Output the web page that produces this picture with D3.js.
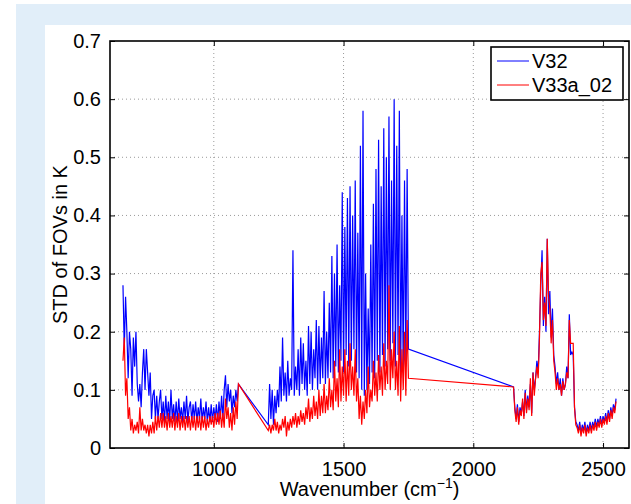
<!DOCTYPE html>
<html>
<head>
<meta charset="utf-8">
<script src="https://cdn.jsdelivr.net/npm/d3@7"></script>
<style>
  body { margin: 0; background: #fff; }
  text { font-family: "Liberation Sans", Arial, Helvetica, sans-serif; }
</style>
</head>
<body>
<div id="chart"></div>
<script>
// channel grid: each band starts at bandStart and steps by bandStep cm-1
const bandStart = [650, 1210, 2155]
const bandStep = 5
const xTicks = [1000, 1500, 2000, 2500]
const yTicks = [0, 0.1, 0.2, 0.3, 0.4, 0.5, 0.6, 0.7]
const seriesNames = ["V32", "V33a_02"]

const v32Band1 = [
  0.28,0.17,0.26,0.20,0.12,0.20,0.17,0.09,0.19,0.14,
  0.20,0.11,0.08,0.11,0.07,0.13,0.17,0.10,0.17,0.13,
  0.09,0.13,0.05,0.09,0.10,0.05,0.09,0.05,0.08,0.10,
  0.05,0.08,0.045,0.09,0.05,0.08,0.045,0.10,0.05,0.075,
  0.045,0.08,0.045,0.085,0.05,0.07,0.045,0.08,0.05,0.09,
  0.045,0.07,0.08,0.045,0.075,0.05,0.08,0.045,0.07,0.05,
  0.085,0.045,0.07,0.05,0.08,0.045,0.07,0.045,0.075,0.045,
  0.07,0.05,0.075,0.045,0.08,0.05,0.09,0.05,0.10,0.125,
  0.07,0.11,0.08,0.10,0.06,0.09,0.07,0.10,0.08,0.11]
const v33Band1 = [
  0.15,0.19,0.09,0.12,0.05,0.07,0.03,0.05,0.025,0.04,
  0.03,0.045,0.025,0.07,0.03,0.05,0.03,0.04,0.025,0.04,
  0.02,0.04,0.025,0.045,0.025,0.055,0.03,0.055,0.035,0.06,
  0.035,0.06,0.035,0.055,0.03,0.06,0.035,0.055,0.035,0.06,
  0.03,0.055,0.035,0.06,0.03,0.055,0.035,0.055,0.03,0.055,
  0.035,0.055,0.03,0.055,0.035,0.055,0.03,0.055,0.035,0.055,
  0.03,0.055,0.035,0.055,0.03,0.05,0.035,0.055,0.04,0.055,
  0.035,0.06,0.04,0.06,0.04,0.065,0.035,0.06,0.035,0.085,
  0.05,0.07,0.035,0.06,0.03,0.07,0.04,0.08,0.05,0.11]

const v32Band2 = [
  0.04,0.11,0.05,0.10,0.04,0.09,0.06,0.10,0.07,0.14,
  0.08,0.19,0.09,0.13,0.08,0.15,0.09,0.12,0.10,0.34,
  0.09,0.14,0.10,0.17,0.09,0.19,0.11,0.18,0.10,0.15,
  0.09,0.21,0.11,0.20,0.10,0.17,0.12,0.22,0.10,0.21,
  0.11,0.19,0.12,0.27,0.11,0.20,0.12,0.25,0.13,0.33,
  0.12,0.30,0.14,0.35,0.13,0.28,0.15,0.44,0.13,0.38,
  0.16,0.43,0.14,0.45,0.15,0.40,0.17,0.46,0.13,0.37,
  0.12,0.52,0.10,0.58,0.09,0.30,0.10,0.24,0.11,0.35,
  0.13,0.42,0.12,0.48,0.15,0.53,0.13,0.45,0.16,0.55,
  0.14,0.50,0.17,0.57,0.15,0.46,0.18,0.60,0.14,0.52,
  0.16,0.58,0.12,0.40,0.13,0.46,0.14,0.48,0.17]
const v33Band2 = [
  0.03,0.04,0.025,0.04,0.03,0.05,0.03,0.045,0.025,0.04,
  0.03,0.05,0.035,0.055,0.02,0.045,0.03,0.05,0.035,0.055,
  0.04,0.06,0.035,0.055,0.04,0.065,0.045,0.06,0.04,0.07,
  0.05,0.085,0.045,0.07,0.05,0.09,0.055,0.08,0.05,0.10,
  0.055,0.09,0.06,0.11,0.06,0.09,0.065,0.12,0.07,0.10,
  0.065,0.15,0.08,0.12,0.07,0.17,0.08,0.14,0.09,0.17,
  0.08,0.15,0.09,0.18,0.10,0.14,0.09,0.17,0.08,0.12,
  0.05,0.09,0.04,0.08,0.05,0.10,0.06,0.14,0.07,0.10,
  0.08,0.15,0.09,0.13,0.08,0.16,0.10,0.14,0.09,0.18,
  0.10,0.15,0.11,0.28,0.10,0.17,0.12,0.20,0.10,0.15,
  0.09,0.21,0.08,0.17,0.10,0.20,0.09,0.22,0.12]

const v32Band3 = [
  0.105,0.07,0.05,0.075,0.045,0.07,0.06,0.08,0.055,0.10,
  0.065,0.09,0.07,0.11,0.06,0.13,0.10,0.12,0.15,0.13,
  0.20,0.28,0.34,0.21,0.26,0.20,0.36,0.23,0.27,0.19,
  0.24,0.16,0.14,0.11,0.13,0.10,0.12,0.09,0.12,0.10,
  0.11,0.14,0.12,0.23,0.16,0.165,0.16,0.07,0.045,0.04,
  0.03,0.045,0.025,0.04,0.03,0.045,0.025,0.04,0.03,0.045,
  0.03,0.045,0.035,0.05,0.035,0.05,0.04,0.055,0.04,0.055,
  0.045,0.06,0.045,0.065,0.05,0.07,0.055,0.075,0.065,0.085]
const v33Band3 = [
  0.105,0.065,0.045,0.07,0.04,0.065,0.055,0.085,0.05,0.095,
  0.06,0.085,0.065,0.12,0.055,0.13,0.09,0.12,0.14,0.12,
  0.19,0.30,0.32,0.22,0.25,0.21,0.36,0.26,0.24,0.18,
  0.22,0.15,0.13,0.10,0.12,0.10,0.11,0.09,0.115,0.10,
  0.11,0.13,0.12,0.22,0.18,0.18,0.18,0.07,0.04,0.035,
  0.025,0.04,0.02,0.035,0.025,0.04,0.02,0.035,0.025,0.04,
  0.025,0.04,0.03,0.045,0.03,0.045,0.035,0.05,0.035,0.05,
  0.04,0.055,0.04,0.06,0.045,0.065,0.05,0.07,0.06,0.08]

function toPoints(bands) {
  let pts = []
  bands.forEach((vals, b) => {
    vals.forEach((v, i) => pts.push([bandStart[b] + i * bandStep, v]))
  })
  return pts
}
const series = [
  {name: seriesNames[0], color: "#0000ff", pts: toPoints([v32Band1, v32Band2, v32Band3])},
  {name: seriesNames[1], color: "#ff0000", pts: toPoints([v33Band1, v33Band2, v33Band3])}
]

const W = 631, H = 504
let margin = {top: 41, right: 2, bottom: 56, left: 110},
    width = W - margin.left - margin.right,
    height = H - margin.top - margin.bottom

let svg = d3.select("#chart").append("svg")
    .attr("width", W)
    .attr("height", H)

// page background
svg.append("rect").attr("x", 16).attr("y", 4).attr("width", W - 16).attr("height", H - 4).attr("fill", "#e1eef9")
svg.append("rect").attr("x", 45).attr("y", 25).attr("width", W - 45).attr("height", H - 25).attr("fill", "#fff")

let g = svg.append("g").attr("transform", "translate(" + margin.left + "," + margin.top + ")")

let x = d3.scaleLinear().domain([600, 2600]).range([0, width])
let y = d3.scaleLinear().domain([0, 0.7]).range([height, 0])

// grid
g.selectAll(".gx").data(xTicks).join("line")
    .attr("x1", d => x(d)).attr("x2", d => x(d))
    .attr("y1", 0).attr("y2", height)
    .attr("stroke", "#9a9a9a").attr("stroke-dasharray", "1 3")
g.selectAll(".gy").data(yTicks.slice(1, -1)).join("line")
    .attr("x1", 0).attr("x2", width)
    .attr("y1", d => y(d)).attr("y2", d => y(d))
    .attr("stroke", "#9a9a9a").attr("stroke-dasharray", "1 3")

g.append("clipPath").attr("id", "clip").append("rect").attr("width", width).attr("height", height)

let line = d3.line().x(d => x(d[0])).y(d => y(d[1]))
g.append("g").attr("clip-path", "url(#clip)")
  .selectAll("path").data(series).join("path")
    .attr("d", d => line(d.pts))
    .attr("fill", "none")
    .attr("stroke", d => d.color)
    .attr("stroke-width", 1.2)

// axes (MATLAB style: ticks inside, box on)
let fs = 20
let xAxis = g.append("g").attr("transform", "translate(0," + height + ")")
    .call(d3.axisBottom(x).tickValues(xTicks).tickSize(-5).tickPadding(14).tickFormat(d3.format("d")))
let xTop = g.append("g")
    .call(d3.axisTop(x).tickValues(xTicks).tickSize(-5).tickFormat(""))
let yAxis = g.append("g")
    .call(d3.axisLeft(y).tickValues(yTicks).tickSize(-5).tickPadding(9).tickFormat(d => d === 0 ? "0" : d3.format(".1f")(d)))
let yRight = g.append("g").attr("transform", "translate(" + width + ",0)")
    .call(d3.axisRight(y).tickValues(yTicks).tickSize(-5).tickFormat(""))
;[xAxis, xTop, yAxis, yRight].forEach(a => {
  a.select(".domain").remove()
  a.selectAll("line").attr("stroke", "#000")
  a.selectAll("text").attr("font-size", fs).attr("fill", "#000")
    .attr("font-family", '"Liberation Sans", Arial, sans-serif')
})

g.append("rect").attr("width", width).attr("height", height)
    .attr("fill", "none").attr("stroke", "#000").attr("stroke-width", 1.6)

// axis labels
let xl = svg.append("text")
    .attr("x", margin.left + width / 2).attr("y", 496)
    .attr("text-anchor", "middle").attr("font-size", fs)
xl.append("tspan").text("Wavenumber (cm")
xl.append("tspan").attr("font-size", 14).attr("dy", -8).text("\u22121")
xl.append("tspan").attr("dy", 8).text(")")

svg.append("text")
    .attr("transform", "translate(67," + (margin.top + height / 2) + ") rotate(-90)")
    .attr("text-anchor", "middle").attr("font-size", fs)
    .text("STD of FOVs in K")

// legend
let lg = svg.append("g")
lg.append("rect").attr("x", 491).attr("y", 47).attr("width", 132).attr("height", 53)
    .attr("fill", "#fff").attr("stroke", "#000").attr("stroke-width", 1.6)
series.forEach((s, i) => {
  let yy = 61 + i * 24
  lg.append("line").attr("x1", 497).attr("x2", 529).attr("y1", yy).attr("y2", yy)
      .attr("stroke", s.color).attr("stroke-width", 1)
  lg.append("text").attr("x", 532).attr("y", yy + 7).attr("font-size", fs).text(s.name)
})
</script>
</body>
</html>
